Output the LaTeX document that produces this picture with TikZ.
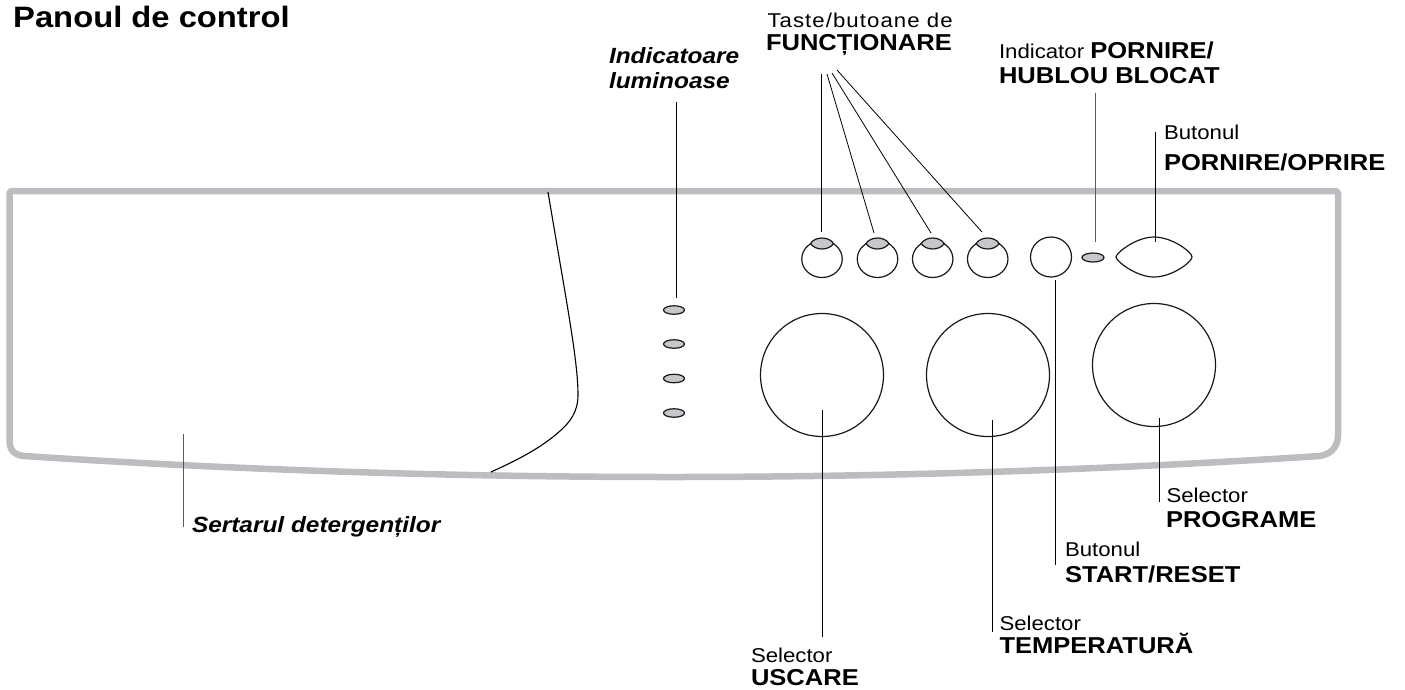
\documentclass[tikz,border=0pt]{standalone}
\usepackage{fontspec}
\setmainfont[FakeStretch=1.11]{Liberation Sans}
\newfontfamily\tastefont[FakeStretch=1.11,LetterSpace=5.3]{Liberation Sans}
\usetikzlibrary{shapes.geometric}
\definecolor{framegray}{HTML}{BCBDC0}
\definecolor{ledgray}{HTML}{C6C7CA}
\tikzset{
  x=1pt,y=-1pt,
  frameline/.style={line width=6.5pt,color=framegray,line join=round},
  leader/.style={line width=0.8pt,color=black},
  softleader/.style={line width=0.9pt,color=black!65},
  outline/.style={draw=black!90,line width=1.2pt,fill=white,inner sep=0pt},
  dial/.style={outline,circle,minimum size=123pt},
  keybody/.style={outline,ellipse,minimum width=40.5pt,minimum height=37pt},
  ledshape/.style={draw=black!90,line width=1.2pt,fill=ledgray},
  ledoval/.style={ledshape,ellipse,inner sep=0pt,minimum width=21pt,minimum height=8.5pt},
  lbl/.style={anchor=base west,inner sep=0pt,outer sep=0pt,font=\fontsize{20}{24}\selectfont},
  lblb/.style={anchor=base west,inner sep=0pt,outer sep=0pt,font=\fontsize{23}{26}\selectfont\bfseries},
  lblbi/.style={anchor=base west,inner sep=0pt,outer sep=0pt,font=\fontsize{22}{26}\selectfont\bfseries\itshape},
}
\newcommand{\lens}[4]{\draw[ledshape] (#1-#3,#2) .. controls (#1-#3*0.6,#2-#4*1.33) and (#1+#3*0.6,#2-#4*1.33) .. (#1+#3,#2) .. controls (#1+#3*0.6,#2+#4*1.33) and (#1-#3*0.6,#2+#4*1.33) .. cycle;}
\begin{document}
\begin{tikzpicture}
\useasboundingbox (0,0) rectangle (1405,689);
% frame
\draw[frameline] (9.5,440) -- (9.5,193) -- (11,191) -- (1336,191) -- (1338,193) -- (1338,435)
  .. controls (1338,447) and (1331,454) .. (1320,456)
  .. controls (890,484) and (450,484) .. (24,456)
  .. controls (14,455) and (9.5,450) .. cycle;
% drawer
\draw[line width=1.1pt] (548,192) .. controls (566,300) and (578,360) .. (578,395)
  .. controls (578,412) and (570,422) .. (560,431) .. controls (540,449) and (515,461) .. (491,472);
% dials
\node[dial] (d1) at (822,375) {};
\node[dial] (d2) at (988,375) {};
\node[dial] (d3) at (1154,365) {};
% keys
\node[keybody] (k1) at (822,259) {};
\node[keybody] (k2) at (877.5,259) {};
\node[keybody] (k3) at (932.7,259) {};
\node[keybody] (k4) at (987.7,259) {};
\lens{822}{243.5}{11.5}{5.5}
\lens{877.5}{243.5}{11.5}{5.5}
\lens{932.7}{243.5}{11.5}{5.5}
\lens{987.7}{243.5}{11.5}{5.5}
\coordinate (l1) at (821,232);
\coordinate (l2) at (874,233);
\coordinate (l3) at (931,233);
\coordinate (l4) at (982,232);
\node[outline,ellipse,minimum width=41pt,minimum height=40pt] (start) at (1051,257) {};
\node[ledoval,minimum width=22pt,minimum height=9pt] (hled) at (1093,257.5) {};
\draw[line width=1.2pt,draw=black!90,fill=white] (1116,257) .. controls (1116,253) and (1136,237) .. (1154,237) .. controls (1172,237) and (1192,252) .. (1192,257) .. controls (1192,262) and (1172,277) .. (1154,277) .. controls (1136,277) and (1116,261) .. cycle;
% LEDs
\node[ledoval] (v1) at (674,310) {};
\node[ledoval] (v2) at (674,344) {};
\node[ledoval] (v3) at (674,378.5) {};
\node[ledoval] (v4) at (674,413) {};
% texts
\node[anchor=base west,inner sep=0pt,font=\fontsize{29.5}{32}\selectfont\bfseries] (title) at (13,27) {Panoul de control};
\node[lblbi] (ind1) at (609,63) {Indicatoare};
\node[lblbi] (ind2) at (609,88) {luminoase};
\node[lbl,font=\fontsize{20}{24}\selectfont\tastefont] (fn1) at (767.5,27) {Taste/butoane de};
\node[lblb] (fn2) at (766,50) {FUNCȚIONARE};
\node[lbl] (hb1) at (999,58) {Indicator \fontsize{23}{26}\selectfont\bfseries PORNIRE/};
\node[lblb] (hb2) at (999,83) {HUBLOU BLOCAT};
\node[lbl] (pw1) at (1164,139) {Butonul};
\node[lblb] (pw2) at (1164,170) {PORNIRE/OPRIRE};
\node[lbl] (pr1) at (1166.5,502) {Selector};
\node[lblb] (pr2) at (1166,527) {PROGRAME};
\node[lbl] (st1) at (1065,556) {Butonul};
\node[lblb] (st2) at (1065,582) {START/RESET};
\node[lbl] (te1) at (999.5,630) {Selector};
\node[lblb] (te2) at (999.5,653) {TEMPERATURĂ};
\node[lbl] (us1) at (751,662) {Selector};
\node[lblb] (us2) at (751,685.5) {USCARE};
\node[lblbi] (se) at (192,532) {Sertarul detergenților};
% leader ends
\coordinate (a1) at (676,102); \coordinate (a2) at (676,298);
\coordinate (f1) at (821,74); \coordinate (f2) at (827,74); \coordinate (f3) at (832,73); \coordinate (f4) at (837,70);
\coordinate (h1) at (1095,93); \coordinate (h2) at (1095,242);
\coordinate (p1) at (1155,132); \coordinate (p2) at (1155,242);
\coordinate (s1) at (1055,280); \coordinate (s2) at (1055,565);
\coordinate (g1) at (1159,418); \coordinate (g2) at (1159,502);
\coordinate (t1) at (992,420); \coordinate (t2) at (992,632);
\coordinate (u1) at (822,410); \coordinate (u2) at (822,637);
\coordinate (x1) at (183,434); \coordinate (x2) at (183,527);
\draw[leader] (a1) -- (a2);
\draw[leader] (f1) -- (l1);
\draw[leader] (f2) -- (l2);
\draw[leader] (f3) -- (l3);
\draw[leader] (f4) -- (l4);
\draw[softleader] (h1) -- (h2);
\draw[leader] (p1) -- (p2);
\draw[leader] (s1) -- (s2);
\draw[leader] (g1) -- (g2);
\draw[leader] (t1) -- (t2);
\draw[leader] (u1) -- (u2);
\draw[softleader] (x1) -- (x2);
\end{tikzpicture}
\end{document}
